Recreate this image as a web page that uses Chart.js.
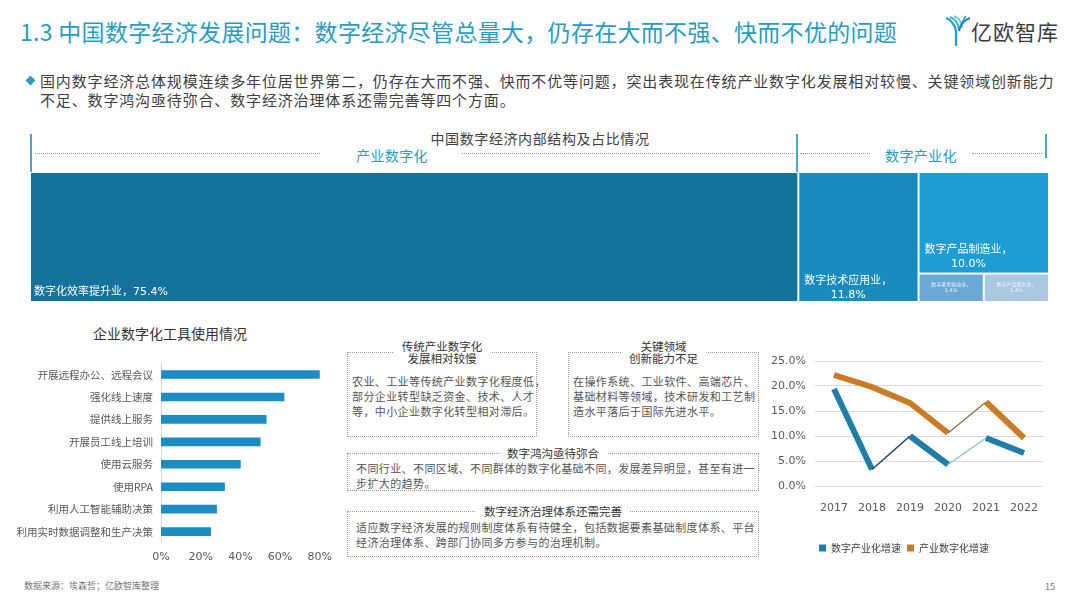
<!DOCTYPE html>
<html lang="zh-CN">
<head>
<meta charset="utf-8">
<title>中国数字经济发展问题</title>
<script src="https://cdn.jsdelivr.net/npm/chart.js@4.4.1/dist/chart.umd.min.js"></script>
<style>
  html, body { margin: 0; padding: 0; background: #fff; }
  body {
    width: 1080px; height: 608px; position: relative; overflow: hidden;
    font-family: "Noto Sans CJK SC", sans-serif; color: #444;
  }
  .abs { position: absolute; white-space: nowrap; }
  #title { left: 20px; top: 18px; font-size: 23px; line-height: 26px; color: #2a9cc4; letter-spacing: 0.3px; }
  #logo-text { left: 971px; top: 18px; font-size: 21px; line-height: 26px; color: #3c3c3c; letter-spacing: 1px; }
  #bullet { left: 27px; top: 77px; width: 7px; height: 7px; background: #2a9cc4; transform: rotate(45deg); }
  #intro { left: 40px; top: 71px; font-size: 15px; line-height: 19px; color: #404040; letter-spacing: 0.85px; }
  #tree-title { left: 0; width: 1080px; top: 129px; text-align: center; font-size: 14px; line-height: 18px; color: #404040; letter-spacing: 0.6px; }
  .group { font-size: 14px; line-height: 18px; color: #2a9cc4; letter-spacing: 0.4px; }
  .vbar { position: absolute; width: 2px; background: #4aa6c8; }
  .dots { position: absolute; height: 0; border-top: 1px dotted #9a9a9a; }
  #tool-title { left: 0; width: 340px; top: 324px; text-align: center; font-size: 14px; line-height: 18px; color: #333; }
  .box { position: absolute; border: 1px dotted #9a9a9a; box-sizing: border-box; }
  .box .bt {
    position: absolute; left: 50%; transform: translateX(-50%); background: #fff;
    padding: 0 8px; text-align: center; font-size: 11.5px; line-height: 12px; color: #333; white-space: nowrap;
  }
  .box .bx { position: absolute; font-size: 11px; line-height: 15px; color: #555; letter-spacing: 0.4px; white-space: nowrap; }
  #source { left: 24px; top: 580px; font-size: 9px; line-height: 12px; color: #777; }
  #page { left: 1045px; top: 581px; font-size: 9px; line-height: 12px; color: #777; }
  canvas { position: absolute; }
</style>
</head>
<body>

<div id="title" class="abs">1.3 中国数字经济发展问题：数字经济尽管总量大，仍存在大而不强、快而不优的问题</div>

<svg class="abs" style="left:944px;top:15px" width="28" height="32" viewBox="0 0 28 32">
  <path d="M2 3 Q10 6 12 16 L12 31" stroke="#1aa0d8" stroke-width="2.2" fill="none"/>
  <path d="M6 2 Q14 5 15 15" stroke="#38b6c9" stroke-width="2" fill="none"/>
  <path d="M10 1 Q18 4 18 13" stroke="#5cc7c2" stroke-width="1.8" fill="none"/>
  <path d="M26 3 Q17 6 15 16" stroke="#1a7fc0" stroke-width="2" fill="none"/>
  <path d="M22 1 Q20 3 18 8" stroke="#2a9cd4" stroke-width="1.6" fill="none"/>
</svg>
<div id="logo-text" class="abs">亿欧智库</div>

<div id="bullet" class="abs"></div>
<div id="intro" class="abs">国内数字经济总体规模连续多年位居世界第二，仍存在大而不强、快而不优等问题，突出表现在传统产业数字化发展相对较慢、关键领域创新能力<br>不足、数字鸿沟亟待弥合、数字经济治理体系还需完善等四个方面。</div>

<!-- treemap header -->
<div id="tree-title" class="abs">中国数字经济内部结构及占比情况</div>
<div class="vbar" style="left:30px;top:134px;height:38px"></div>
<div class="vbar" style="left:796px;top:134px;height:38px"></div>
<div class="vbar" style="left:1045px;top:134px;height:24px"></div>
<div class="dots" style="left:35px;top:153px;width:285px"></div>
<div class="dots" style="left:462px;top:153px;width:331px"></div>
<div class="dots" style="left:800px;top:153px;width:70px"></div>
<div class="dots" style="left:972px;top:153px;width:70px"></div>
<div class="abs group" style="left:356px;top:146px">产业数字化</div>
<div class="abs group" style="left:885px;top:146px">数字产业化</div>

<canvas id="treeChart" width="1019" height="130" style="left:30px;top:172px"></canvas>

<!-- tools bar chart -->
<div id="tool-title" class="abs">企业数字化工具使用情况</div>
<canvas id="toolChart" width="340" height="223" style="left:0;top:349px"></canvas>

<!-- text boxes -->
<div class="box" style="left:347px;top:352px;width:190px;height:85px">
  <div class="bt" style="top:-13px">传统产业数字化<br>发展相对较慢</div>
  <div class="bx" style="left:4px;top:21px">农业、工业等传统产业数字化程度低，<br>部分企业转型缺乏资金、技术、人才<br>等，中小企业数字化转型相对滞后。</div>
</div>
<div class="box" style="left:568px;top:352px;width:191px;height:85px">
  <div class="bt" style="top:-13px">关键领域<br>创新能力不足</div>
  <div class="bx" style="left:4px;top:21px">在操作系统、工业软件、高端芯片、<br>基础材料等领域，技术研发和工艺制<br>造水平落后于国际先进水平。</div>
</div>
<div class="box" style="left:347px;top:453px;width:412px;height:38px">
  <div class="bt" style="top:-7px">数字鸿沟亟待弥合</div>
  <div class="bx" style="left:8px;top:7px">不同行业、不同区域、不同群体的数字化基础不同，发展差异明显，甚至有进一<br>步扩大的趋势。</div>
</div>
<div class="box" style="left:347px;top:511px;width:412px;height:46px">
  <div class="bt" style="top:-7px">数字经济治理体系还需完善</div>
  <div class="bx" style="left:8px;top:8px">适应数字经济发展的规则制度体系有待健全，包括数据要素基础制度体系、平台<br>经济治理体系、跨部门协同多方参与的治理机制。</div>
</div>

<!-- growth line chart -->
<canvas id="growthChart" width="300" height="222" style="left:765px;top:345px"></canvas>

<div id="source" class="abs">数据来源：埃森哲；亿欧智库整理</div>
<div id="page" class="abs">15</div>

<script>
// treemap: structure of China's digital economy (%)
const treeLabels = ['数字化效率提升业', '数字技术应用业', '数字产品制造业', '数字要素驱动业', '数字产品服务业'];
const treeValues = [75.4, 11.8, 10.0, 1.4, 1.4];
const treeColors = ['#15729c', '#1a8bbf', '#1e9dd5', '#6aa9d6', '#a8c7e1'];

// enterprise digital tool usage (%)
const toolLabels = ['开展远程办公、远程会议', '强化线上速度', '提供线上服务', '开展员工线上培训', '使用云服务', '使用RPA', '利用人工智能辅助决策', '利用实时数据调整和生产决策'];
const toolValues = [80, 62, 53, 50, 40, 32, 28, 25];

// growth rates (%)
const years = ['2017', '2018', '2019', '2020', '2021', '2022'];
const digitalIndustryGrowth = [19.4, 3.3, 10.0, 4.3, 9.6, 6.6];
const industryDigitalGrowth = [22.2, 19.8, 16.6, 10.6, 16.8, 9.6];

const numFont = '"DejaVu Sans", "Noto Sans CJK SC"';
const cjkFont = '"Noto Sans CJK SC"';

// slice-and-dice layout: first two values get full-height columns,
// the last column stacks the third on top of the remaining ones side by side
const treemapPlugin = {
    id: 'treemapCells',
    afterDatasetsDraw(chart) {
        const { ctx, scales: { x, y } } = chart;
        const total = treeValues.reduce((a, b) => a + b, 0);
        const cells = [];
        let x0 = 0;
        for (let i = 0; i < 2; i++) {
            const w = treeValues[i] / total * 100;
            cells.push({ x0: x0, x1: x0 + w, y0: 0, y1: 100 });
            x0 += w;
        }
        const rest = treeValues.slice(2).reduce((a, b) => a + b, 0);
        const split = 100 - treeValues[2] / rest * 100;
        cells.push({ x0: x0, x1: 100, y0: split, y1: 100 });
        const tail = treeValues.slice(3).reduce((a, b) => a + b, 0);
        let sx = x0;
        for (let i = 3; i < treeValues.length; i++) {
            const w = treeValues[i] / tail * (100 - x0);
            cells.push({ x0: sx, x1: sx + w, y0: 0, y1: split });
            sx += w;
        }

        ctx.save();
        cells.forEach((c, i) => {
            const left = x.getPixelForValue(c.x0), right = x.getPixelForValue(c.x1);
            const top = y.getPixelForValue(c.y1), bottom = y.getPixelForValue(c.y0);
            ctx.fillStyle = treeColors[i];
            ctx.fillRect(left + 1, top + 1, right - left - 2, bottom - top - 2);

            const name = treeLabels[i] + '，';
            const pct = treeValues[i].toFixed(1) + '%';
            ctx.fillStyle = '#fff';
            ctx.textBaseline = 'middle';
            if (i === 0) {
                ctx.font = '11px ' + numFont;
                ctx.textAlign = 'left';
                ctx.fillText(name + pct, left + 4, bottom - 10);
            } else if (i < 3) {
                ctx.font = '11px ' + numFont;
                ctx.textAlign = 'left';
                const w = ctx.measureText(name).width;
                const lx = left + 6;
                const off = i === 1 ? 0 : 2;
                ctx.fillText(name, lx, bottom - 21 - off);
                ctx.textAlign = 'center';
                ctx.fillText(pct, lx + w / 2, bottom - 7 - off);
            } else {
                ctx.font = '5px ' + numFont;
                ctx.textAlign = 'center';
                ctx.fillStyle = 'rgba(255,255,255,0.85)';
                const cx = (left + right) / 2;
                ctx.fillText(name, cx, top + 11);
                ctx.fillText(pct, cx, top + 17);
            }
        });
        ctx.restore();
    }
};

new Chart(document.getElementById('treeChart'), {
    type: 'scatter',
    data: { datasets: [] },
    options: {
        responsive: false,
        animation: false,
        layout: { padding: 0 },
        plugins: { legend: { display: false }, tooltip: { enabled: false } },
        scales: {
            x: { type: 'linear', min: 0, max: 100, display: false },
            y: { type: 'linear', min: 0, max: 100, display: false }
        }
    },
    plugins: [treemapPlugin]
});

new Chart(document.getElementById('toolChart'), {
    type: 'bar',
    data: {
        labels: toolLabels,
        datasets: [{ data: toolValues, backgroundColor: '#1b8cc4', barThickness: 8 }]
    },
    options: {
        indexAxis: 'y',
        responsive: false,
        animation: false,
        layout: { padding: { top: 2, right: 17, bottom: 0, left: 0 } },
        plugins: { legend: { display: false }, tooltip: { enabled: false } },
        scales: {
            x: {
                min: 0, max: 80,
                grid: { display: false, drawTicks: false },
                border: { display: false },
                ticks: {
                    stepSize: 20, padding: 8, color: '#595959',
                    font: { size: 11, family: numFont },
                    callback: v => v + '%'
                }
            },
            y: {
                grid: { display: false, drawTicks: false },
                border: { display: true, color: '#d9d9d9' },
                ticks: { autoSkip: false, padding: 8, color: '#595959', font: { size: 10.5, family: cjkFont } },
                afterFit(scale) { scale.width = 161; }
            }
        }
    }
});

// thin segments mimic the ribbon sides of the original 3D line chart
new Chart(document.getElementById('growthChart'), {
    type: 'line',
    data: {
        labels: years,
        datasets: [
            {
                label: '数字产业化增速',
                data: digitalIndustryGrowth,
                borderColor: '#1f7ea8',
                backgroundColor: '#1f7ea8',
                borderWidth: 6,
                pointRadius: 0,
                tension: 0,
                segment: {
                    borderColor: c => c.p0DataIndex === 1 ? '#1d4560' : c.p0DataIndex === 3 ? '#8fc2d8' : undefined,
                    borderWidth: c => (c.p0DataIndex === 1 || c.p0DataIndex === 3) ? 1.5 : undefined
                }
            },
            {
                label: '产业数字化增速',
                data: industryDigitalGrowth,
                borderColor: '#c97b25',
                backgroundColor: '#c97b25',
                borderWidth: 6,
                pointRadius: 0,
                tension: 0,
                segment: {
                    borderColor: c => c.p0DataIndex === 3 ? '#8c6a3e' : undefined,
                    borderWidth: c => c.p0DataIndex === 3 ? 1.2 : undefined
                }
            }
        ]
    },
    options: {
        responsive: false,
        animation: false,
        layout: { padding: { top: 16, right: 22, bottom: 4, left: 0 } },
        plugins: {
            tooltip: { enabled: false },
            legend: {
                position: 'bottom',
                labels: {
                    boxWidth: 7, boxHeight: 7, padding: 6, color: '#404040',
                    font: { size: 10, family: cjkFont },
                    generateLabels: chart => Chart.defaults.plugins.legend.labels.generateLabels(chart)
                        .map(l => ({ ...l, lineWidth: 0 }))
                }
            }
        },
        scales: {
            y: {
                min: 0, max: 25,
                grid: { color: '#d9d9d9', drawTicks: false },
                border: { display: false },
                ticks: {
                    stepSize: 5, padding: 9, color: '#595959',
                    font: { size: 11, family: numFont },
                    callback: v => v.toFixed(1) + '%'
                },
                afterFit(scale) { scale.width = 50; }
            },
            x: {
                offset: true,
                grid: { display: false, drawTicks: false },
                border: { display: false },
                ticks: { padding: 16, color: '#595959', font: { size: 11, family: numFont } },
                afterFit(scale) { scale.height = 51; }
            }
        }
    }
});
</script>
</body>
</html>
